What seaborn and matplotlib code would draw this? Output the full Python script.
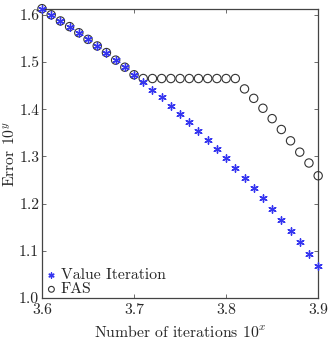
import numpy as np
import pandas as pd
import seaborn as sns
import matplotlib.pyplot as plt

# data
iters = [3.60, 3.61, 3.62, 3.63, 3.64, 3.65, 3.66, 3.67, 3.68, 3.69, 3.70,
         3.71, 3.72, 3.73, 3.74, 3.75, 3.76, 3.77, 3.78, 3.79, 3.80,
         3.81, 3.82, 3.83, 3.84, 3.85, 3.86, 3.87, 3.88, 3.89, 3.90]
value_iter = [1.613, 1.600, 1.587, 1.575, 1.562, 1.548, 1.534, 1.520, 1.504, 1.489, 1.473,
              1.457, 1.441, 1.425, 1.407, 1.389, 1.372, 1.353, 1.334, 1.315, 1.296,
              1.275, 1.254, 1.233, 1.211, 1.189, 1.165, 1.142, 1.118, 1.093, 1.068]
fas = [1.613, 1.600, 1.587, 1.575, 1.562, 1.548, 1.534, 1.520, 1.504, 1.489, 1.473,
       1.465, 1.465, 1.465, 1.465, 1.465, 1.465, 1.465, 1.465, 1.465, 1.465,
       1.465, 1.443, 1.423, 1.402, 1.380, 1.357, 1.333, 1.309, 1.286, 1.259]

df = pd.DataFrame({'x': iters, 'vi': value_iter, 'fas': fas})

sns.set_style('ticks')
plt.rcParams['font.family'] = ['cmr10', 'DejaVu Serif']
plt.rcParams['mathtext.fontset'] = 'cm'
plt.rcParams['axes.formatter.use_mathtext'] = True

fs = 11.3
fig = plt.figure(figsize=(3.28, 3.39), dpi=100)
ax = fig.add_axes([0.128, 0.121, 0.842, 0.852])

sns.scatterplot(data=df, x='x', y='fas', ax=ax, marker='o', s=36,
                facecolor='none', edgecolor='#333333', linewidth=0.8,
                label='FAS', clip_on=False, zorder=3)
sns.scatterplot(data=df, x='x', y='vi', ax=ax, marker=(6, 2, 0), s=28,
                color='#3535f0', edgecolor='#3535f0', linewidth=1.0,
                label='Value Iteration', clip_on=False, zorder=4)

ax.set_xlim(3.6, 3.9)
ax.set_ylim(1.0, 1.612)
ax.set_xticks([3.6, 3.7, 3.8, 3.9])
ax.set_yticks([1.0, 1.1, 1.2, 1.3, 1.4, 1.5, 1.6])
ax.set_xticklabels(['3.6', '3.7', '3.8', '3.9'])
ax.set_yticklabels(['1.0', '1.1', '1.2', '1.3', '1.4', '1.5', '1.6'])
ax.tick_params(direction='in', top=True, right=True, labelsize=fs,
               length=3, width=0.6, color='#555555')
ax.tick_params(axis='y', pad=2)
for sp in ax.spines.values():
    sp.set_linewidth(0.9)
    sp.set_color('#444444')
    sp.set_visible(True)

ax.set_xlabel('Number of iterations $10^x$', fontsize=fs, labelpad=5)
ax.set_ylabel('Error $10^y$', fontsize=fs, labelpad=1)

h, l = ax.get_legend_handles_labels()
ax.legend(h[::-1], l[::-1], loc='lower left', frameon=False, fontsize=fs,
          handletextpad=0.1, labelspacing=0.0, borderaxespad=0.0,
          handlelength=1.0, borderpad=0.1, markerscale=0.7)

fig.savefig('out.png', dpi=100)
